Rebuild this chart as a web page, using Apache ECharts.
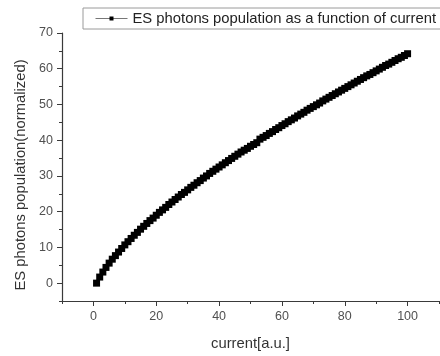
<!DOCTYPE html>
<html>
<head>
<meta charset="utf-8">
<script src="https://cdn.jsdelivr.net/npm/echarts@6/dist/echarts.min.js"></script>
<style>
  html, body { margin: 0; padding: 0; background: #fff; }
  #chart { width: 440px; height: 356px; }
</style>
</head>
<body>
<div id="chart"></div>
<script>
// current [a.u.], 1..100
const current = [
  1, 2, 3, 4, 5, 6, 7, 8, 9, 10,
  11, 12, 13, 14, 15, 16, 17, 18, 19, 20,
  21, 22, 23, 24, 25, 26, 27, 28, 29, 30,
  31, 32, 33, 34, 35, 36, 37, 38, 39, 40,
  41, 42, 43, 44, 45, 46, 47, 48, 49, 50,
  51, 52, 53, 54, 55, 56, 57, 58, 59, 60,
  61, 62, 63, 64, 65, 66, 67, 68, 69, 70,
  71, 72, 73, 74, 75, 76, 77, 78, 79, 80,
  81, 82, 83, 84, 85, 86, 87, 88, 89, 90,
  91, 92, 93, 94, 95, 96, 97, 98, 99, 100
];

// ES photons population (normalized)
const population = [
  0.0, 1.7, 3.1, 4.4, 5.6, 6.7, 7.7, 8.7, 9.7, 10.7,
  11.6, 12.5, 13.4, 14.2, 15.1, 15.9, 16.7, 17.5, 18.2, 19.0,
  19.8, 20.5, 21.2, 22.0, 22.7, 23.4, 24.1, 24.8, 25.4, 26.1,
  26.8, 27.4, 28.1, 28.7, 29.4, 30.0, 30.7, 31.3, 31.9, 32.5,
  33.1, 33.7, 34.3, 34.9, 35.5, 36.1, 36.7, 37.2, 37.7, 38.3,
  38.8, 39.3, 40.3, 40.8, 41.3, 41.9, 42.4, 43.0, 43.5, 44.1,
  44.6, 45.2, 45.7, 46.2, 46.8, 47.3, 47.8, 48.4, 48.9, 49.4,
  49.9, 50.4, 51.0, 51.5, 52.0, 52.5, 53.0, 53.5, 54.0, 54.5,
  55.0, 55.5, 56.0, 56.5, 57.0, 57.5, 58.0, 58.4, 58.9, 59.4,
  59.9, 60.4, 60.9, 61.3, 61.8, 62.3, 62.8, 63.2, 63.7, 64.2
];

const xTicks = [0, 20, 40, 60, 80, 100];
const yTicks = [0, 10, 20, 30, 40, 50, 60, 70];

const chart = echarts.init(document.getElementById("chart"), null, { renderer: "canvas" });

const axisColor = "#3a3a3a";
const labelColor = "#505050";
const font = "Liberation Sans, Arial, sans-serif";
const bigFont = 14.8;

const option = {
  backgroundColor: "#fff",
  animation: false,
  textStyle: { fontFamily: font },
  legend: {
    left: 83,
    top: 8,
    padding: [3, 6, 3, 12],
    borderColor: "#9a9a9a",
    borderWidth: 1,
    itemWidth: 32,
    itemHeight: 5,
    itemGap: 5,
    lineStyle: { color: "#777", width: 1 },
    textStyle: { fontSize: bigFont, color: "#222", fontFamily: font },
    data: ["ES photons population as a function of current"]
  },
  grid: {
    left: 62,
    right: 1,
    top: 33,
    bottom: 47,
    containLabel: false
  },
  xAxis: [
    {
      type: "value",
      position: "bottom",
      min: -10,
      max: 110,
      name: "current[a.u.]",
      nameLocation: "middle",
      nameGap: 35,
      nameTextStyle: { fontSize: bigFont, color: "#333", fontFamily: font },
      axisLine: { onZero: false, lineStyle: { color: axisColor, width: 1.2 } },
      axisTick: { length: 5, customValues: xTicks, lineStyle: { color: axisColor } },
      axisLabel: { customValues: xTicks, margin: 9, fontSize: 12.5, color: labelColor, fontFamily: font },
      splitLine: { show: false }
    },
    {
      type: "value",
      position: "bottom",
      offset: 0,
      min: -10,
      max: 110,
      interval: 10,
      axisLine: { show: false, onZero: false },
      axisTick: { show: true, length: 3, lineStyle: { color: axisColor } },
      axisLabel: { show: false },
      splitLine: { show: false }
    }
  ],
  yAxis: [
    {
      type: "value",
      position: "left",
      min: -5,
      max: 70,
      name: "ES photons population(normalized)",
      nameLocation: "middle",
      nameGap: 34,
      nameRotate: 90,
      nameTextStyle: { fontSize: bigFont, color: "#333", fontFamily: font, padding: [0, 16, 0, 0] },
      axisLine: { show: true, onZero: false, lineStyle: { color: axisColor, width: 1.2 } },
      axisTick: { show: true, length: 5, customValues: yTicks, lineStyle: { color: axisColor } },
      axisLabel: { customValues: yTicks, margin: 9, fontSize: 12.5, color: labelColor, fontFamily: font },
      splitLine: { show: false }
    },
    {
      type: "value",
      position: "left",
      offset: 0,
      min: -5,
      max: 70,
      interval: 5,
      axisLine: { show: false, onZero: false },
      axisTick: { show: true, length: 3, lineStyle: { color: axisColor } },
      axisLabel: { show: false },
      splitLine: { show: false }
    }
  ],
  series: [
    {
      name: "ES photons population as a function of current",
      type: "line",
      xAxisIndex: 0,
      yAxisIndex: 0,
      data: current.map((c, i) => [c, population[i]]),
      symbol: "rect",
      symbolSize: 7,
      showSymbol: true,
      showAllSymbol: true,
      color: "#000",
      itemStyle: { color: "#000" },
      lineStyle: { color: "#000", width: 1 }
    }
  ]
};

chart.setOption(option);
</script>
</body>
</html>
